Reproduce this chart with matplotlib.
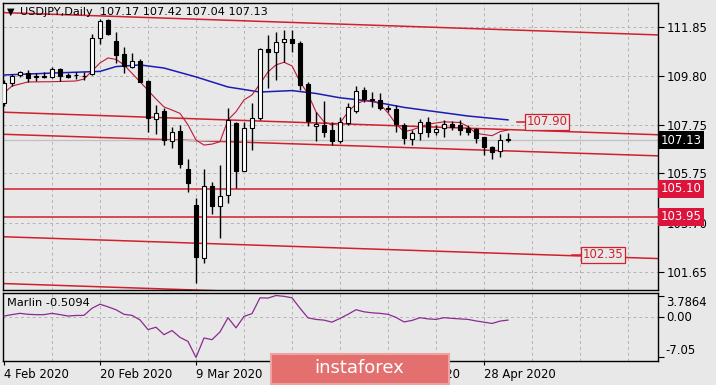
'''
	USDJPY daily chart with MA lines, channel lines and the Marlin oscillator below
'''
## Library Imports
import numpy as np
import matplotlib
matplotlib.use('Agg')
import matplotlib.pyplot as plt
import matplotlib.transforms as mtransforms
from matplotlib.patches import Rectangle

## Daily candles, 4 Feb 2020 -> 1 May 2020 (one entry per bar)
opens = [108.68, 109.52, 109.85, 109.95, 109.79, 109.82, 109.78, 110.09, 109.85, 109.84,
	109.80, 109.89, 111.38, 112.14, 111.27, 110.72, 110.20, 110.45, 109.60, 108.00,
	108.35, 107.10, 107.52, 105.93, 104.43, 102.24, 105.24, 104.40, 104.85, 107.84,
	105.86, 107.65, 108.07, 110.93, 110.82, 111.24, 111.35, 111.17, 109.48, 107.71,
	107.77, 107.56, 107.10, 107.86, 108.36, 109.23, 108.80, 108.81, 108.45, 108.42,
	107.77, 107.17, 107.45, 107.90, 107.47, 107.63, 107.81, 107.77, 107.63, 107.59,
	107.28, 106.84, 106.68, 107.17]
highs = [109.64, 109.88, 110.02, 110.06, 109.92, 109.96, 110.17, 110.13, 109.92, 109.99,
	109.99, 111.56, 112.20, 112.18, 111.65, 111.03, 110.75, 110.50, 109.64, 108.60,
	108.46, 107.70, 107.77, 106.35, 104.74, 105.93, 105.40, 106.10, 108.49, 107.89,
	107.88, 108.67, 110.99, 111.52, 111.63, 111.73, 111.73, 111.27, 109.57, 108.30,
	108.77, 107.90, 108.11, 108.67, 109.39, 109.34, 109.15, 109.09, 108.60, 108.60,
	107.84, 107.56, 108.00, 108.11, 107.77, 107.98, 107.95, 107.98, 107.77, 107.63,
	107.28, 106.89, 107.39, 107.42]
lows = [108.56, 109.40, 109.75, 109.57, 109.61, 109.71, 109.71, 109.61, 109.71, 109.68,
	109.64, 109.85, 111.14, 111.52, 110.34, 109.92, 110.13, 109.56, 107.49, 107.39,
	106.93, 106.82, 105.96, 104.99, 101.18, 102.00, 104.05, 103.07, 104.50, 105.13,
	105.84, 106.72, 107.98, 109.30, 109.64, 110.40, 110.80, 109.22, 107.74, 107.10,
	107.28, 106.93, 107.00, 107.77, 108.28, 108.74, 108.50, 108.39, 108.32, 107.49,
	106.98, 106.93, 107.14, 107.28, 107.35, 107.28, 107.56, 107.35, 107.35, 107.00,
	106.52, 106.34, 106.42, 107.04]
closes = [109.52, 109.81, 109.99, 109.74, 109.78, 109.75, 110.09, 109.82, 109.75, 109.85,
	109.81, 111.38, 112.10, 111.55, 110.68, 110.24, 110.43, 109.57, 108.05, 108.28,
	107.14, 107.49, 106.13, 105.34, 102.28, 105.24, 104.40, 104.82, 107.98, 105.86,
	107.65, 108.07, 110.93, 110.82, 111.24, 111.35, 111.20, 109.43, 107.93, 107.81,
	107.49, 107.10, 107.88, 108.50, 109.20, 108.84, 108.84, 108.46, 108.43, 107.81,
	107.21, 107.42, 107.90, 107.49, 107.59, 107.81, 107.67, 107.56, 107.49, 107.21,
	106.84, 106.65, 107.14, 107.13]

## Moving averages (bar index, price)
fast_ma_idx = [0, 1, 3, 6, 9, 10, 11, 12, 13, 14, 15, 17, 19, 20, 21, 22, 23, 24, 25, 26,
	27, 28, 29, 30, 31, 32, 33, 34, 35, 36, 37, 38, 39, 40, 41, 42, 43, 44, 45, 46,
	47, 48, 49, 50, 51, 52, 53, 55, 57, 58, 59, 61, 62, 63]
fast_ma_val = [109.10, 109.39, 109.56, 109.57, 109.60, 109.68, 110.02, 110.35, 110.56, 110.50,
	110.27, 109.57, 108.85, 108.52, 108.39, 108.25, 107.77, 107.14, 106.93, 106.97,
	107.07, 107.98, 108.32, 108.81, 109.02, 109.48, 109.98, 110.27, 110.38, 110.23,
	109.57, 109.06, 108.31, 107.90, 107.77, 107.85, 108.31, 108.64, 108.78, 108.78,
	108.64, 108.27, 107.81, 107.49, 107.56, 107.68, 107.80, 107.90, 107.87, 107.70,
	107.42, 107.32, 107.49, 107.56]
slow_ma_idx = [0, 6, 12, 14, 17, 20, 24, 28, 32, 36, 39, 42, 46, 50, 54, 58, 63]
slow_ma_val = [109.85, 109.93, 110.00, 110.20, 110.27, 110.14, 109.77, 109.35, 109.14, 109.20,
	109.08, 108.90, 108.75, 108.50, 108.32, 108.14, 107.98]

## Marlin oscillator, one value per bar
marlin = [0.20, 0.45, 0.67, 0.50, 0.44, 0.44, 0.67, 0.45, 0.20, 0.30,
	0.32, 1.56, 2.27, 1.81, 1.30, 0.50, 0.32, -0.48, -2.17, -1.76,
	-3.06, -2.34, -3.53, -4.25, -7.05, -3.64, -3.94, -2.58, -0.09, -1.87,
	0.14, 0.62, 3.39, 3.34, 3.7864, 3.65, 3.39, 1.56, -0.12, -0.39,
	-0.52, -0.87, -0.21, 0.50, 1.30, 0.94, 0.76, 0.67, 0.50, -0.04,
	-0.83, -0.57, -0.09, -0.30, -0.39, -0.09, -0.21, -0.30, -0.39, -0.66,
	-0.87, -1.10, -0.69, -0.5094]

## Channel lines (price at left edge, price at right edge) and flat levels
channel_left = [112.45, 108.30, 107.38, 103.11, 101.16]
channel_right = [111.52, 107.36, 106.48, 102.20, 100.24]
levels = [105.10, 103.95]
boxed_levels = [107.90, 102.35]
boxed_pos = [(64.1, 65.2, 67.9), (71.0, 72.4, 74.9)]

date_idx = [0, 12, 24, 36, 48, 60]
date_labels = ['4 Feb 2020', '20 Feb 2020', '9 Mar 2020', '25 Mar 2020', '10 Apr 2020', '28 Apr 2020']
price_ticks = [111.85, 109.80, 107.75, 105.75, 103.70, 101.65]
last_price = 107.13

## Colours
bg = '#e8e8e8'
line_red = '#d21f2b'
grid_c = '#b4b4b4'

W, H = 716, 385
fig = plt.figure(figsize=(W/100, H/100), dpi=100, facecolor=bg)
ax = fig.add_axes([3/W, 1-290/H, 655/W, 287/H], facecolor=bg)
sub = fig.add_axes([3/W, 1-361/H, 655/W, 68/H], facecolor=bg, sharex=ax)

x0, x1 = -0.125, 81.75
ax.set_xlim(x0, x1)
ax.set_ylim(100.89, 112.85)
sub.set_ylim(-7.67, 4.23)

## Grid
for a in (ax, sub):
	for gx in range(6, 82, 6):
		a.axvline(gx, color=grid_c, lw=0.7, ls=(0, (3, 3)), zorder=0)
	for s in a.spines.values():
		s.set_color('black')
		s.set_linewidth(1)
for p in price_ticks:
	ax.axhline(p, color=grid_c, lw=0.7, ls=(0, (3, 3)), zorder=0)
sub.axhline(0, color=grid_c, lw=0.7, ls=(0, (3, 3)), zorder=0)

## Channel lines and levels
for pl, pr in zip(channel_left, channel_right):
	ax.plot([x0, x1], [pl, pr], color=line_red, lw=1.1, zorder=1)
for lv in levels:
	ax.axhline(lv, color=line_red, lw=1.1, zorder=1)
ax.axhline(last_price, color='#c0c0c0', lw=0.9, zorder=1)

for lv, (s0, s1, tx) in zip(boxed_levels, boxed_pos):
	ax.plot([s0, s1], [lv, lv], color=line_red, lw=1.1, zorder=1)
	ax.text(tx, lv, '%.2f' % lv, color=line_red, fontsize=8.4, ha='center', va='center',
		bbox=dict(boxstyle='square,pad=0.12', fc=bg, ec=line_red, lw=0.9), zorder=5)

## Moving averages
ax.plot(slow_ma_idx, slow_ma_val, color='#1c1cb4', lw=1.1, zorder=3)
ax.plot(fast_ma_idx, fast_ma_val, color='#c01838', lw=0.8, zorder=3)

## Candles
idx = np.arange(len(opens))
o = np.array(opens); c = np.array(closes)
ax.vlines(idx, lows, highs, color='black', lw=1, zorder=4)
body_lo = np.minimum(o, c)
body_h = np.maximum(np.abs(c - o), 0.025)
colors = ['white' if cc >= oo else 'black' for oo, cc in zip(o, c)]
ax.bar(idx, body_h, bottom=body_lo, width=0.62, color=colors, edgecolor='black', lw=0.8, zorder=4)

## Price axis on the right
ax.yaxis.tick_right()
ax.set_yticks(price_ticks)
ax.set_yticklabels(['%.2f' % p for p in price_ticks])
ax.tick_params(axis='y', direction='out', length=4, pad=2, labelsize=8.4, colors='black')
ax.tick_params(axis='x', bottom=False, labelbottom=False)

trans = mtransforms.blended_transform_factory(ax.transAxes, ax.transData)
ax.text(1.004, last_price, '%.2f' % last_price, transform=trans, color='white', fontsize=8.4,
	ha='left', va='center', bbox=dict(boxstyle='square,pad=0.22', fc='black', ec='none'), zorder=6, clip_on=False)
for lv in levels:
	ax.text(1.004, lv, '%.2f' % lv, transform=trans, color='white', fontsize=8.4,
		ha='left', va='center', bbox=dict(boxstyle='square,pad=0.22', fc='#dc143c', ec='none'), zorder=6, clip_on=False)

## Marlin sub-window
sub.plot(idx, marlin, color='#8a2b92', lw=0.9, zorder=3)
sub.yaxis.tick_right()
sub.set_yticks([3.7864, 0, -7.05])
sub.set_yticklabels([])
sub.tick_params(axis='y', direction='out', length=4, pad=2)
strans = mtransforms.blended_transform_factory(sub.transAxes, sub.transData)
sub.text(1.012, 3.7864, '3.7864', transform=strans, fontsize=8.4, ha='left', va='top')
sub.text(1.012, 0, '0.00', transform=strans, fontsize=8.4, ha='left', va='center')
sub.text(1.012, -7.05, '-7.05', transform=strans, fontsize=8.4, ha='left', va='bottom')
sub.text(0.006, 0.86, 'Marlin %.4f' % marlin[-1], transform=sub.transAxes, fontsize=8.2, ha='left', va='center')

sub.set_xticks(date_idx)
sub.set_xticklabels(date_labels, ha='left')
sub.tick_params(axis='x', direction='out', length=3, pad=2, labelsize=8.4)

## Title
fig.text(7/W, 1-12/H, '\u25bc', fontsize=7, ha='left', va='center')
fig.text(20/W, 1-12/H, 'USDJPY,Daily  107.17 107.42 107.04 107.13', fontsize=8.1, ha='left', va='center')

## Watermark
fig.patches.append(Rectangle((271/W, 1-384/H), 178/W, 30/H, transform=fig.transFigure,
	fc='#e46f6f', ec='#eea3a3', lw=1.5, zorder=10))
fig.text(359/W, 1-368/H, 'instaforex', color='white', fontsize=13, ha='center', va='center', zorder=11)

fig.savefig('out.png', dpi=100, facecolor=bg)
